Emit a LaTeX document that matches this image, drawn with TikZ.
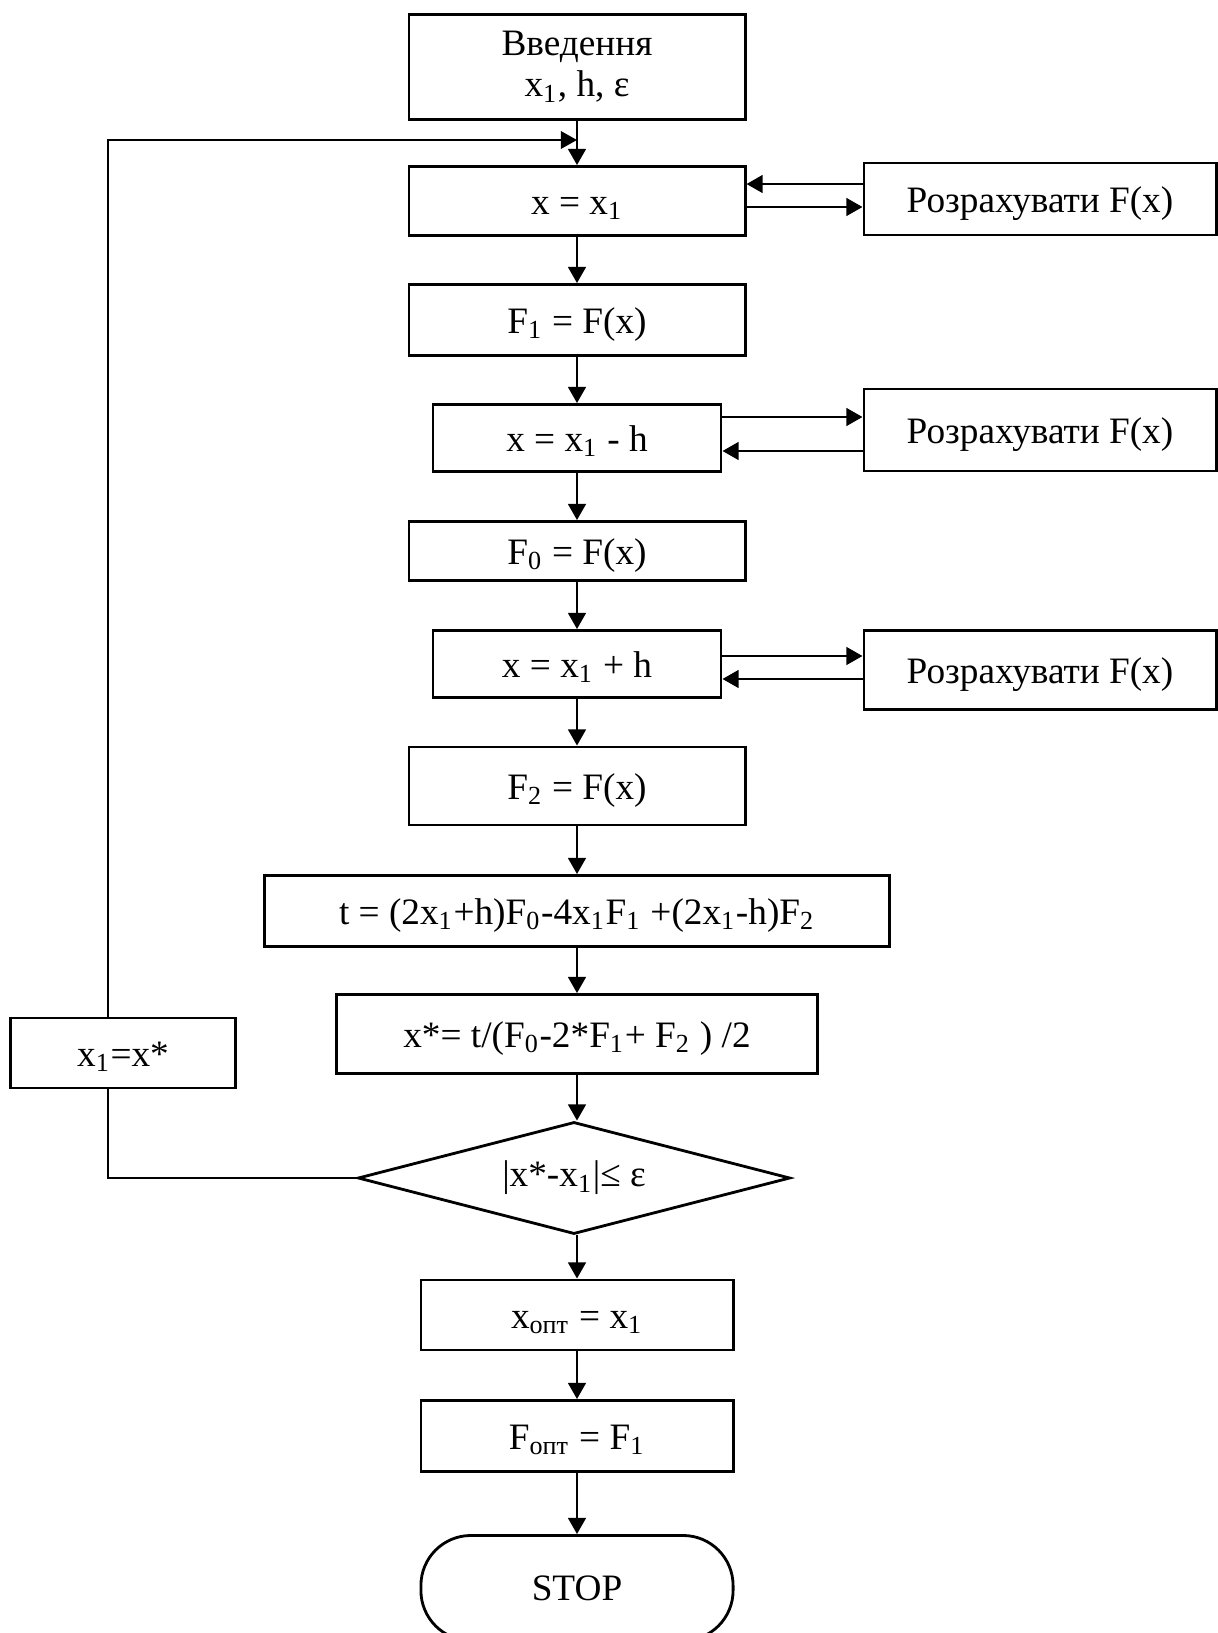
\documentclass[tikz,border=0pt]{standalone}
\usepackage{fontspec}
\setmainfont{Liberation Serif}
\usetikzlibrary{arrows.meta,shapes.geometric}
\newcommand{\ix}[1]{\textsubscript{#1}}
\begin{document}
\begin{tikzpicture}[x=0.01cm,y=-0.01cm,
        box/.style={draw,line width=0.8pt,inner sep=0pt,align=center,font=\fontsize{10.6}{11.6}\selectfont},
        one/.style={box,text height=1em,text depth=0.25em},
        arr/.style={line width=0.8pt,-{Triangle[length=4.6pt,width=5pt]}},
        loopline/.style={line width=0.5pt}]
        \useasboundingbox (0,0) rectangle (1217,1633);
        % blocks
        \node [box,minimum width=3.36cm,minimum height=1.05cm] (input) at (577,67) {Введення\\x\ix{1}, h, ε};
        \node [one,minimum width=3.36cm,minimum height=0.69cm] (xa) at (577,201) {x = x\ix{1}};
        \node [one,minimum width=3.36cm,minimum height=0.71cm] (fone) at (577,320) {F\ix{1} = F(x)};
        \node [one,minimum width=2.88cm,minimum height=0.67cm] (xb) at (577,438) {x = x\ix{1} - h};
        \node [one,minimum width=3.36cm,minimum height=0.59cm] (fzero) at (577,551) {F\ix{0} = F(x)};
        \node [one,minimum width=2.88cm,minimum height=0.67cm] (xc) at (577,664) {x = x\ix{1} + h};
        \node [one,minimum width=3.36cm,minimum height=0.78cm] (ftwo) at (577,786) {F\ix{2} = F(x)};
        \node [one,minimum width=6.25cm,minimum height=0.71cm] (tval) at (577,911) {t = (2x\ix{1}+h)F\ix{0}-4x\ix{1}F\ix{1} +(2x\ix{1}-h)F\ix{2}};
        \node [one,minimum width=4.81cm,minimum height=0.79cm] (xstar) at (577,1034) {x*= t/(F\ix{0}-2*F\ix{1}+ F\ix{2} ) /2};
        \node [box,shape=diamond,minimum width=4.32cm,minimum height=1.12cm,aspect=3.9] (cond) at (574,1178) {|x*-x\ix{1}|≤ ε};
        \node [one,minimum width=3.12cm,minimum height=0.70cm] (xopt) at (577,1315) {x\ix{опт} = x\ix{1}};
        \node [one,minimum width=3.12cm,minimum height=0.71cm] (fopt) at (577,1436) {F\ix{опт} = F\ix{1}};
        \node [box,minimum width=3.12cm,minimum height=1.05cm,rounded corners=0.5cm] (stop) at (577,1588) {STOP};
        \node [one,minimum width=2.25cm,minimum height=0.70cm] (xupd) at (123,1053) {x\ix{1}=x*};
        % side blocks
        \node [one,minimum width=3.52cm,minimum height=0.72cm] (calcA) at (1040,199) {Розрахувати F(x)};
        \node [one,minimum width=3.52cm,minimum height=0.82cm] (calcB) at (1040,430) {Розрахувати F(x)};
        \node [one,minimum width=3.52cm,minimum height=0.79cm] (calcC) at (1040,670) {Розрахувати F(x)};
        % arrows
        \draw [arr] (input) -- (xa);\draw [arr] (xa) -- (fone);\draw [arr] (fone) -- (xb);\draw [arr] (xb) -- (fzero);
        \draw [arr] (fzero) -- (xc);\draw [arr] (xc) -- (ftwo);\draw [arr] (ftwo) -- (tval);\draw [arr] (tval) -- (xstar);
        \draw [arr] (xstar) -- (xstar |- cond.north);\draw [arr] (cond.south -| xopt) -- (xopt);\draw [arr] (xopt) -- (fopt);\draw [arr] (fopt) -- (stop);
        \draw [arr] (calcA.west |- 0,184) -- (xa.east |- 0,184);\draw [arr] (xa.east |- 0,207) -- (calcA.west |- 0,207);
        \draw [arr] (xb.east |- 0,417) -- (calcB.west |- 0,417);\draw [arr] (calcB.west |- 0,451) -- (xb.east |- 0,451);
        \draw [arr] (xc.east |- 0,656) -- (calcC.west |- 0,656);\draw [arr] (calcC.west |- 0,679) -- (xc.east |- 0,679);
        % loop
        \coordinate (loopB) at (108,1178);\coordinate (loopT) at (108,140);
        \draw [loopline] (cond.west) -- (loopB) -- (xupd.south -| loopB);
        \draw [loopline,-{Triangle[length=4.6pt,width=5pt]}] (xupd.north -| loopB) -- (loopT) -- (input.south |- loopT);
    \end{tikzpicture}
\end{document}
